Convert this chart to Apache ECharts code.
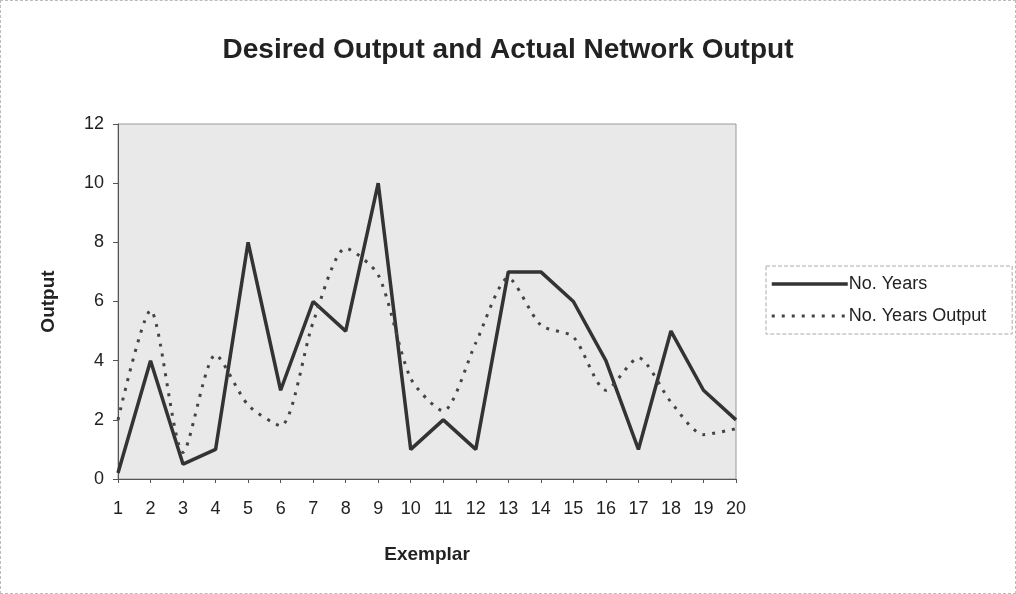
<!DOCTYPE html>
<html><head><meta charset="utf-8">
<script src="https://cdn.jsdelivr.net/npm/echarts@6/dist/echarts.min.js"></script>
<style>html,body{margin:0;padding:0;background:#fff}#c{width:1016px;height:594px;box-sizing:border-box;border:1px dashed #bbb}</style>
</head><body><div id="c"></div>
<script>
var categories = ['1','2','3','4','5','6','7','8','9','10','11','12','13','14','15','16','17','18','19','20'];
var noYears = [0.2,4,0.5,1,8,3,6,5,10,1,2,1,7,7,6,4,1,5,3,2];
var noYearsOutput = [2,5.7,0.9,4.2,2.5,1.8,5.3,7.8,6.9,3.4,2.3,4.6,6.8,5.2,4.8,3,4.1,2.6,1.5,1.7];
var FONT = 'Liberation Sans, Arial, sans-serif';
var chart = echarts.init(document.getElementById('c'));
chart.setOption({
  animation:false,
  title:{text:'Desired Output and Actual Network Output',left:'center',top:30,
    textStyle:{fontFamily:FONT,fontSize:28,fontWeight:'bold',color:'#222'}},
  grid:{left:117,right:279,top:123,bottom:114,show:true,backgroundColor:'#e9e9e9',borderColor:'#999',borderWidth:1},
  legend:{orient:'vertical',left:765,top:265,itemWidth:76,itemHeight:12,itemGap:14,
    padding:[9,26,9,4],borderColor:'#aaa',borderWidth:1,borderType:'dashed',
    itemStyle:{color:'transparent',borderColor:'transparent',borderWidth:0},
    lineStyle:{width:'inherit'},
    textStyle:{fontFamily:FONT,fontSize:18,color:'#222',padding:[0,0,0,-4]},
    data:['No. Years','No. Years Output']},
  xAxis:{type:'category',data:categories,boundaryGap:false,
    name:'Exemplar',nameLocation:'middle',nameGap:66,
    nameTextStyle:{fontFamily:FONT,fontSize:19,fontWeight:'bold',color:'#222'},
    axisLine:{lineStyle:{color:'#555'}},axisTick:{alignWithLabel:true,length:4,lineStyle:{color:'#555'}},
    axisLabel:{fontFamily:FONT,fontSize:18,color:'#222',margin:21}},
  yAxis:{type:'value',min:0,max:12,interval:2,
    name:'Output',nameLocation:'middle',nameGap:60,
    nameTextStyle:{fontFamily:FONT,fontSize:19,fontWeight:'bold',color:'#222'},
    axisLine:{show:true,lineStyle:{color:'#555'}},axisTick:{show:true,length:5,lineStyle:{color:'#555'}},
    splitLine:{show:false},
    axisLabel:{fontFamily:FONT,fontSize:18,color:'#222',margin:14}},
  series:[
    {name:'No. Years',type:'line',data:noYears,symbol:'none',
      lineStyle:{color:'#333',width:3.5},itemStyle:{color:'#333'}},
    {name:'No. Years Output',type:'line',data:noYearsOutput,symbol:'none',smooth:0.25,
      lineStyle:{color:'#444',width:3,type:[3,7]},itemStyle:{color:'#444'}}
  ]
});
</script></body></html>
